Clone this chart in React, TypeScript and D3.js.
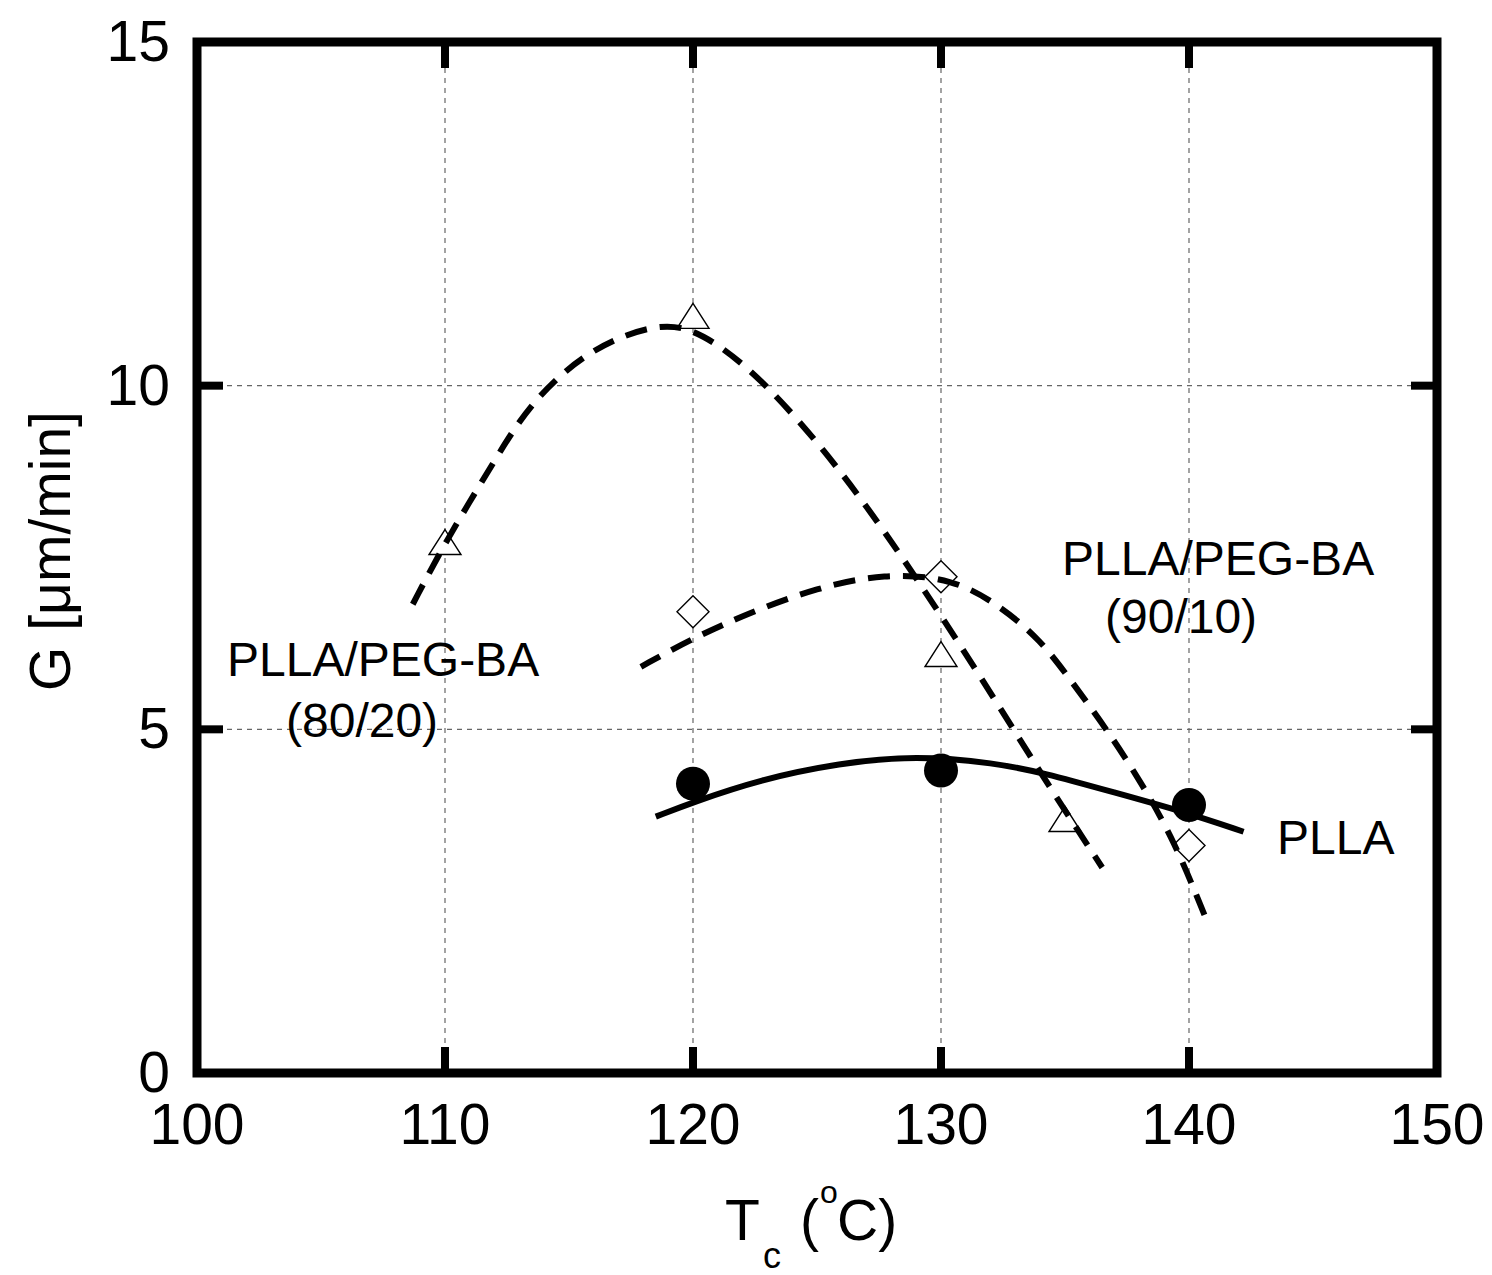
import React from "react";
import * as d3 from "d3";

// ---- Data ----
const xTicks = [100, 110, 120, 130, 140, 150];
const yTicks = [0, 5, 10, 15];

// Measured points
const pllaT = [120, 130, 140];
const pllaG = [4.21, 4.4, 3.9];

const b9010T = [120, 130, 140];
const b9010G = [6.71, 7.22, 3.31];

const b8020T = [110, 120, 130, 135];
const b8020G = [7.66, 10.95, 6.03, 3.63];

// Fitted curves
const pllaFitT = [118.5, 120.0, 122.7, 125.9, 129.0, 132.2, 134.1, 137.0, 139.8, 142.2];
const pllaFitG = [3.73, 3.94, 4.27, 4.51, 4.62, 4.51, 4.37, 4.08, 3.8, 3.51];

const fit8020T = [108.7, 110.0, 112.1, 113.4, 115.7, 118.6, 120.3, 122.7, 125.7, 128.4, 131.6, 134.0, 136.5];
const fit8020G = [6.82, 7.72, 8.97, 9.73, 10.52, 10.93, 10.8, 10.14, 8.9, 7.54, 5.77, 4.37, 2.99];

const fit9010T = [117.9, 119.9, 122.3, 125.0, 127.7, 130.5, 132.4, 134.0, 135.3, 136.7, 138.0, 139.4, 140.7];
const fit9010G = [5.91, 6.31, 6.7, 7.06, 7.27, 7.2, 6.79, 6.31, 5.68, 4.99, 4.27, 3.39, 2.23];

const labels = [
  { text: "PLLA/PEG-BA", x: 227, y: 676 },
  { text: "(80/20)", x: 286, y: 737 },
  { text: "PLLA/PEG-BA", x: 1062, y: 575 },
  { text: "(90/10)", x: 1105, y: 633 },
  { text: "PLLA", x: 1277, y: 854 },
];

const FONT = "'Liberation Sans', Arial, Helvetica, sans-serif";

export default function App() {
  const W = 1492;
  const H = 1275;
  const x = d3.scaleLinear().domain([100, 150]).range([197, 1437]);
  const y = d3.scaleLinear().domain([0, 15]).range([1073, 42]);

  const line = d3
    .line<[number, number]>()
    .x((d) => x(d[0]))
    .y((d) => y(d[1]))
    .curve(d3.curveBasis);

  const zip = (a: number[], b: number[]) => a.map((v, i) => [v, b[i]] as [number, number]);

  const [x0, x1] = x.range();
  const [y0, y1] = y.range();
  const tickLen = 26;

  return (
    <svg
      width={W}
      height={H}
      style={{ position: "absolute", left: 0, top: 0, background: "#fff" }}
      fontFamily={FONT}
    >
      <rect x={0} y={0} width={W} height={H} fill="#fff" />
      {/* grid */}
      <g stroke="#666" strokeWidth={1.2} strokeDasharray="5,5">
        {xTicks.slice(1, -1).map((t) => (
          <line key={"gx" + t} x1={x(t)} x2={x(t)} y1={y0} y2={y1} />
        ))}
        {yTicks.slice(1, -1).map((t) => (
          <line key={"gy" + t} x1={x0} x2={x1} y1={y(t)} y2={y(t)} />
        ))}
      </g>

      {/* markers */}
      <g fill="#fff" stroke="#000" strokeWidth={1.4}>
        {b8020T.map((t, i) => {
          const cx = x(t);
          const cy = y(b8020G[i]);
          return (
            <path
              key={"tri" + i}
              d={`M${cx},${cy - 17}L${cx + 16},${cy + 8}L${cx - 16},${cy + 8}Z`}
            />
          );
        })}
        {b9010T.map((t, i) => {
          const cx = x(t);
          const cy = y(b9010G[i]);
          return (
            <path
              key={"dia" + i}
              d={`M${cx},${cy - 16}L${cx + 16},${cy}L${cx},${cy + 16}L${cx - 16},${cy}Z`}
            />
          );
        })}
      </g>
      <g fill="#000">
        {pllaT.map((t, i) => (
          <circle key={"c" + i} cx={x(t)} cy={y(pllaG[i])} r={17} />
        ))}
      </g>

      {/* fitted curves */}
      <path d={line(zip(fit8020T, fit8020G)) || ""} fill="none" stroke="#000" strokeWidth={6} strokeDasharray="22,13" />
      <path d={line(zip(fit9010T, fit9010G)) || ""} fill="none" stroke="#000" strokeWidth={6} strokeDasharray="22,13" />
      <path d={line(zip(pllaFitT, pllaFitG)) || ""} fill="none" stroke="#000" strokeWidth={6} />

      {/* ticks */}
      <g stroke="#000" strokeWidth={8}>
        {xTicks.map((t) => (
          <g key={"tx" + t}>
            <line x1={x(t)} x2={x(t)} y1={y0} y2={y0 - tickLen} />
            <line x1={x(t)} x2={x(t)} y1={y1} y2={y1 + tickLen} />
          </g>
        ))}
        {yTicks.map((t) => (
          <g key={"ty" + t}>
            <line x1={x0} x2={x0 + tickLen} y1={y(t)} y2={y(t)} />
            <line x1={x1} x2={x1 - tickLen} y1={y(t)} y2={y(t)} />
          </g>
        ))}
      </g>

      {/* frame */}
      <rect x={x0} y={y1} width={x1 - x0} height={y0 - y1} fill="none" stroke="#000" strokeWidth={9} />

      {/* tick labels */}
      <g fontSize={57} fill="#000">
        {xTicks.map((t) => (
          <text key={"lx" + t} x={x(t)} y={1144} textAnchor="middle">
            {t}
          </text>
        ))}
        {yTicks.map((t) => (
          <text key={"ly" + t} x={170} y={y(t) + 19} textAnchor="end">
            {t}
          </text>
        ))}
      </g>

      {/* axis titles */}
      <text transform="translate(70,551) rotate(-90)" textAnchor="middle" fontSize={57}>
        G [μm/min]
      </text>
      <text fontSize={57}>
        <tspan x={725} y={1240}>T</tspan>
        <tspan x={763} y={1268} fontSize={36}>c</tspan>
        <tspan x={800} y={1240}>(</tspan>
        <tspan x={820} y={1203} fontSize={32}>o</tspan>
        <tspan x={837} y={1240}>C)</tspan>
      </text>

      {/* annotations */}
      <g fontSize={48}>
        {labels.map((l, i) => (
          <text key={"an" + i} x={l.x} y={l.y}>
            {l.text}
          </text>
        ))}
      </g>
    </svg>
  );
}
